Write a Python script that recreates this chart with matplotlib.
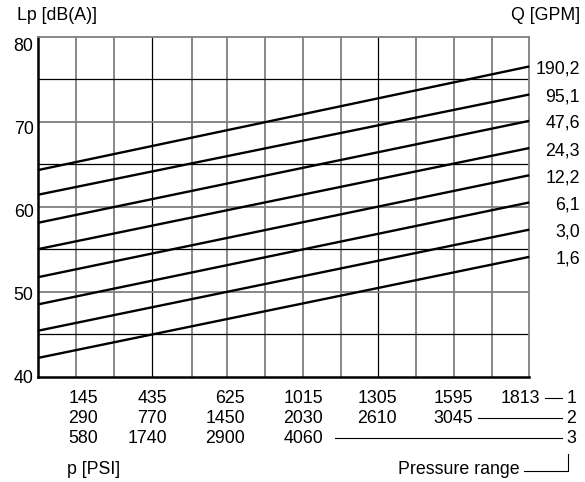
import matplotlib
matplotlib.use("Agg")
import matplotlib.pyplot as plt
from matplotlib.lines import Line2D
import matplotlib.transforms as mtransforms

plt.rcParams['font.family'] = ['Liberation Sans', 'DejaVu Sans']

# ---- data ----
flow_labels = ['190,2', '95,1', '47,6', '24,3', '12,2', '6,1', '3,0', '1,6']
lp_start = [64.3, 61.4, 58.1, 55.0, 51.7, 48.5, 45.4, 42.2]   # dB(A) at lowest pressure
lp_end = [76.5, 73.2, 70.1, 66.9, 63.7, 60.5, 57.3, 54.1]     # dB(A) at max pressure
p_range = [0.0, 1.0]                                          # relative pressure

range1 = ['145', '435', '625', '1015', '1305', '1595', '1813']
range2 = ['290', '770', '1450', '2030', '2610', '3045']
range3 = ['580', '1740', '2900', '4060']
y_ticks = [40, 50, 60, 70, 80]

# ---- layout helpers ----
W, H = 585, 482
fig = plt.figure(figsize=(W / 100, H / 100), dpi=100)
def fx(x): return x / W
def fy(y): return 1 - y / H

FS = 12.8

L, R, T, B = 37.7, 529.3, 36.7, 376.7
ax = fig.add_axes([fx(L), fy(B), fx(R) - fx(L), fy(T) - fy(B)])
ax.set_xlim(0, 1)
ax.set_ylim(40, 80)

grey = '#7f7f7f'
vgrid = [0.0779, 0.1552, 0.2319, 0.3145, 0.3857, 0.4624, 0.5391,
         0.6164, 0.6928, 0.7695, 0.8468, 0.9241]
vblack = [0.2319, 0.6928]
for v in vgrid:
    if v in vblack:
        ax.axvline(v, color='black', lw=0.9, zorder=1)
    else:
        ax.axvline(v, color=grey, lw=1.3, zorder=1)
for h in [45, 55, 65, 75]:
    ax.axhline(h, color='black', lw=0.9, zorder=1)
for h in [50, 60, 70]:
    ax.axhline(h, color=grey, lw=1.3, zorder=1)

for s in ['top', 'right']:
    ax.spines[s].set_color(grey)
    ax.spines[s].set_linewidth(1.3)
for s in ['left', 'bottom']:
    ax.spines[s].set_color('black')
    ax.spines[s].set_linewidth(1.8)

for lab, a, b in zip(flow_labels, lp_start, lp_end):
    ax.plot(p_range, [a, b], color='black', lw=1.7, solid_capstyle='butt', zorder=3, clip_on=False)
    ax.annotate(lab, xy=(1, b), xytext=(36.5, -1.8), textcoords='offset points',
                ha='right', va='center', fontsize=FS)

ax.set_yticks(y_ticks)
ax.set_yticklabels([str(t) for t in y_ticks], fontsize=12.8)
ax.tick_params(axis='y', length=0, pad=3.0)
ax.set_xticks([])
# the printed labels sit slightly lower than their grid lines toward the top
label_shift_px = [0, 2, 4, 6, 8]
for lbl, d in zip(ax.get_yticklabels(), label_shift_px):
    lbl.set_transform(lbl.get_transform() + mtransforms.Affine2D().translate(0, -d))

# titles
fig.text(fx(17), fy(16), 'Lp [dB(A)]', ha='left', va='center', fontsize=FS)
fig.text(fx(580), fy(15), 'Q [GPM]', ha='right', va='center', fontsize=FS)

# pressure rows
col_right = [98, 167, 245, 323, 397, 473, 540]
row_y = [398.3, 418.3, 438.3]
for r, row in enumerate([range1, range2, range3]):
    for c, lab in enumerate(row):
        fig.text(fx(col_right[c]), fy(row_y[r]), lab, ha='right', va='center', fontsize=FS)

line_starts = [545, 478, 335]
for r, x0 in enumerate(line_starts):
    fig.add_artist(Line2D([fx(x0), fx(562)], [fy(row_y[r]), fy(row_y[r])],
                          color='black', lw=0.8))
    fig.text(fx(576), fy(row_y[r]), str(r + 1), ha='right', va='center', fontsize=FS)

fig.text(fx(67), fy(469), 'p [PSI]', ha='left', va='center', fontsize=FS)
fig.text(fx(520), fy(469), 'Pressure range', ha='right', va='center', fontsize=FS)
fig.add_artist(Line2D([fx(524), fx(567.5), fx(567.5)], [fy(470.5), fy(470.5), fy(454)],
                      color='black', lw=0.8))

fig.savefig('out.png', dpi=100)
